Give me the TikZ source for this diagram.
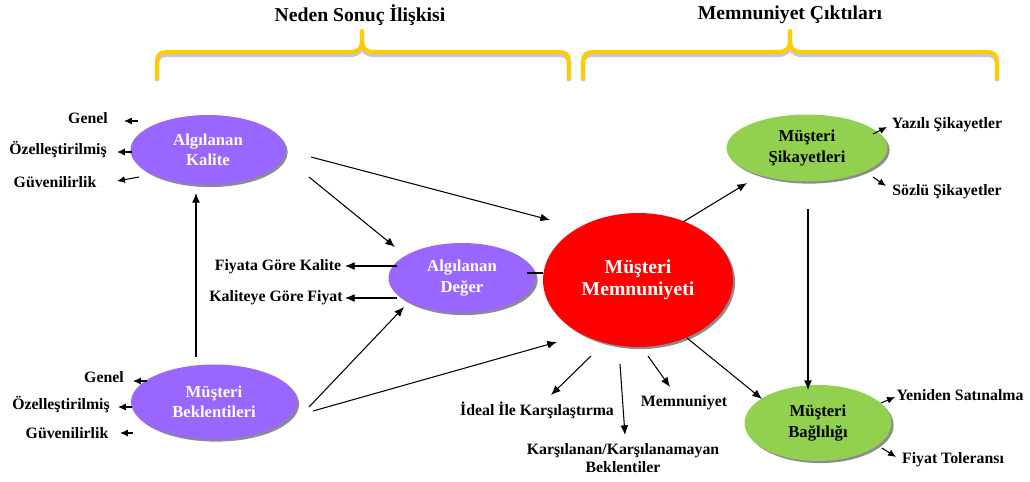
\documentclass[tikz,border=0pt]{standalone}
\usepackage{fontspec}
\setmainfont{Liberation Serif}
\usetikzlibrary{shapes.geometric,arrows.meta,calc,shadows}
\definecolor{lila}{RGB}{153,102,255}
\definecolor{yesil}{RGB}{146,208,80}
\definecolor{kirmizi}{RGB}{255,0,0}
\definecolor{sari}{RGB}{255,204,0}
\definecolor{golge}{RGB}{200,200,200}
\tikzset{
  elli/.style={ellipse, inner sep=0pt, align=center, font=\bfseries\fontsize{9.5}{11.5}\selectfont,
    drop shadow={shadow xshift=1.2pt, shadow yshift=-1.2pt, opacity=0.45, fill=black}},
  mor/.style={elli, fill=lila, text=white},
  yes/.style={elli, fill=yesil, text=black},
  kir/.style={elli, fill=kirmizi, text=white, font=\bfseries\fontsize{11.2}{12.2}\selectfont},
  lbl/.style={inner sep=0pt, align=center, font=\bfseries\fontsize{9}{10}\selectfont},
  ttl/.style={inner sep=0pt, font=\bfseries\fontsize{11.2}{13}\selectfont},
  arr/.style={line width=0.6pt, -{Latex[length=5.5pt,width=4.5pt]}},
  sarr/.style={line width=0.6pt, -{Latex[length=4.5pt,width=4pt]}},
  ln/.style={line width=0.6pt},
  brace/.style={draw=sari, line width=2.3pt, line cap=round},
  braceshadow/.style={draw=golge, line width=2.3pt},
}
\begin{document}
\begin{tikzpicture}[x=0.02cm,y=-0.02cm]
\useasboundingbox (0,0) rectangle (1030,481);

% braces
\foreach \a/\m/\b in {157/362/569, 583/790/997}{
  \foreach \s/\dy in {braceshadow/3, brace/0}{
    \draw[\s, yshift=-\dy*0.02cm] (\a,78) -- (\a,62) .. controls (\a,55) and (\a+3,52) .. (\a+10,52) -- (\m-12,52) .. controls (\m-4,52) and (\m,48) .. (\m,42) -- (\m,31);
    \draw[\s, yshift=-\dy*0.02cm] (\m,42) .. controls (\m,48) and (\m+4,52) .. (\m+12,52) -- (\b-10,52) .. controls (\b-3,52) and (\b,55) .. (\b,62) -- (\b,78);
  }
}
\node[ttl] (t1) at (360,15) {Neden Sonuç İlişkisi};
\node[ttl] (t2) at (790,15) {Memnuniyet Çıktıları};

% main nodes
\node[mor, minimum width=3.1cm, minimum height=1.4cm] (kal) at (208,150) {Algılanan\\Kalite};
\node[mor, minimum width=2.94cm, minimum height=1.4cm] (deg) at (462,278) {Algılanan\\Değer};
\node[kir, minimum width=3.8cm, minimum height=2.68cm] (mem) at (638,280) {Müşteri\\Memnuniyeti};
\node[mor, minimum width=3.32cm, minimum height=1.5cm] (bek) at (214,402) {Müşteri\\Beklentileri};
\node[yes, minimum width=3.22cm, minimum height=1.34cm] (sik) at (807,148) {Müşteri\\Şikayetleri};
\node[yes, minimum width=2.94cm, minimum height=1.52cm] (bag) at (818,423) {Müşteri\\Bağlılığı};

% labels
\node[lbl] (g1) at (88,118) {Genel};
\node[lbl] (o1) at (58,150) {Özelleştirilmiş};
\node[lbl] (v1) at (55,182) {Güvenilirlik};
\node[lbl] (g2) at (104,377) {Genel};
\node[lbl] (o2) at (61,405) {Özelleştirilmiş};
\node[lbl] (v2) at (67,433) {Güvenilirlik};
\node[lbl] (fgk) at (278,267) {Fiyata Göre Kalite};
\node[lbl] (kgf) at (276,298) {Kaliteye Göre Fiyat};
\node[lbl] (ide) at (537,410) {İdeal İle Karşılaştırma};
\node[lbl] (mmn) at (684,403) {Memnuniyet};
\node[lbl] (kar) at (623,458) {Karşılanan/Karşılanamayan\\Beklentiler};
\node[lbl] (yaz) at (947,125) {Yazılı Şikayetler};
\node[lbl] (soz) at (947,192) {Sözlü Şikayetler};
\node[lbl] (yen) at (960,395) {Yeniden Satınalma};
\node[lbl] (fiy) at (953,460) {Fiyat Toleransı};

% short arrows to labels
\draw[sarr] ($(kal)+(-70,-29)$) -- ($(g1)+(36,3)$);
\draw[sarr] ($(kal)+(-76,2)$) -- ($(o1)+(59,2)$);
\draw[sarr] ($(kal)+(-69,27)$) -- ($(v1)+(62,-1)$);
\draw[sarr] ($(bek)+(-67,-21)$) -- ($(g2)+(29,4)$);
\draw[sarr] ($(bek)+(-82,5)$) -- ($(o2)+(57,2)$);
\draw[sarr] ($(bek)+(-81,31)$) -- ($(v2)+(53,0)$);
\draw[arr] ($(deg)+(-65,-12)$) -- ($(fgk)+(67,-1)$);
\draw[arr] ($(deg)+(-65,20)$) -- ($(kgf)+(69,0)$);
\draw[sarr] ($(sik)+(66,-14)$) -- ($(yaz)+(-60,2)$);
\draw[sarr] ($(sik)+(66,29)$) -- ($(soz)+(-61,-6)$);
\draw[sarr] ($(bag)+(63,-20)$) -- ($(yen)+(-65,2)$);
\draw[sarr] ($(bag)+(64,25)$) -- ($(fiy)+(-57,-3)$);
\draw[arr] ($(mem)+(-47,76)$) -- ($(ide)+(14,-15)$);
\draw[arr] ($(mem)+(-18,84)$) -- ($(kar)+(2,-23)$);
\draw[arr] ($(mem)+(10,76)$) -- ($(mmn)+(-14,-16)$);

% main connectors
\draw[arr] ($(kal)+(103,7)$) -- ($(mem)+(-88,-60)$);
\draw[arr] ($(kal)+(101,27)$) -- ($(deg)+(-67,-31)$);
\draw[arr] ($(bek)+(-18,-45)$) -- ($(kal)+(-12,43)$);
\draw[arr] ($(bek)+(95,5)$) -- ($(deg)+(-58,29)$);
\draw[arr] ($(bek)+(99,9)$) -- ($(mem)+(-81,62)$);
\draw[ln] ($(deg)+(65,-5)$) -- ($(mem)+(-95,-7)$);
\draw[arr] ($(mem)+(45,-58)$) -- ($(sik)+(-60,35)$);
\draw[arr] ($(mem)+(49,58)$) -- ($(bag)+(-56,-24)$);
\draw[arr] ($(sik)+(1,61)$) -- ($(bag)+(-10,-33)$);
\end{tikzpicture}
\end{document}
